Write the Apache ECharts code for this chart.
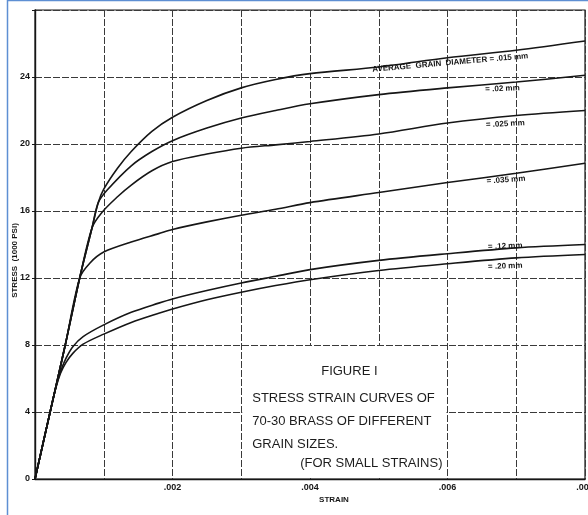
<!DOCTYPE html>
<html>
<head>
<meta charset="utf-8">
<script src="https://cdn.jsdelivr.net/npm/echarts@6/dist/echarts.min.js"></script>
<style>
html, body { margin: 0; padding: 0; background: #fff; }
#chart { width: 588px; height: 515px; }
</style>
</head>
<body>
<div id="chart"></div>
<script>
// strain (in/in) vs stress (1000 psi)
const grain015 = [[0, 0], [0.00022, 4], [0.00044, 8], [0.00065, 12], [0.00083, 15], [0.00092, 16.5], [0.001, 17.3], [0.0012, 18.55], [0.0014, 19.55], [0.0017, 20.75], [0.002, 21.6], [0.0025, 22.6], [0.003, 23.35], [0.0035, 23.85], [0.004, 24.2], [0.005, 24.6], [0.006, 25.15], [0.007, 25.6], [0.008, 26.15]];
const grain02 = [[0, 0], [0.00022, 4], [0.00044, 8], [0.00065, 12], [0.00083, 15], [0.00092, 16.5], [0.00105, 17.25], [0.0014, 18.7], [0.0017, 19.55], [0.002, 20.2], [0.0025, 20.95], [0.003, 21.55], [0.0035, 22.0], [0.004, 22.4], [0.005, 22.95], [0.006, 23.35], [0.007, 23.7], [0.008, 24.1]];
const grain025 = [[0, 0], [0.00022, 4], [0.00044, 8], [0.00065, 12], [0.00083, 15], [0.00097, 15.9], [0.0012, 16.85], [0.0014, 17.55], [0.0017, 18.4], [0.002, 18.95], [0.0025, 19.4], [0.003, 19.75], [0.0035, 19.95], [0.004, 20.15], [0.005, 20.6], [0.006, 21.25], [0.007, 21.7], [0.008, 22.0]];
const grain035 = [[0, 0], [0.00022, 4], [0.00044, 8], [0.00065, 12], [0.0008, 12.9], [0.001, 13.55], [0.0014, 14.15], [0.0018, 14.65], [0.002, 14.9], [0.0025, 15.35], [0.003, 15.75], [0.0035, 16.1], [0.004, 16.5], [0.005, 17.1], [0.006, 17.7], [0.007, 18.25], [0.008, 18.85]];
const grain12 = [[0, 0], [0.00022, 4], [0.0003, 5.4], [0.00037, 6.4], [0.00045, 7.2], [0.00055, 7.9], [0.0007, 8.5], [0.001, 9.2], [0.0014, 9.95], [0.0018, 10.5], [0.002, 10.75], [0.0025, 11.25], [0.003, 11.7], [0.0035, 12.1], [0.004, 12.5], [0.005, 13.05], [0.006, 13.45], [0.007, 13.8], [0.008, 14.0]];
const grain20 = [[0, 0], [0.00022, 4], [0.0003, 5.4], [0.00037, 6.3], [0.00045, 6.95], [0.00055, 7.5], [0.0007, 8.05], [0.001, 8.65], [0.0014, 9.35], [0.0018, 9.9], [0.002, 10.15], [0.0025, 10.7], [0.003, 11.15], [0.0035, 11.55], [0.004, 11.9], [0.005, 12.45], [0.006, 12.85], [0.007, 13.2], [0.008, 13.4]];

const curveLabels = [
    'AVERAGE  GRAIN  DIAMETER = .015 mm',
    '= .02 mm',
    '= .025 mm',
    '= .035 mm',
    '= .12 mm',
    '= .20 mm',
];
const figureLines = [
    'FIGURE I',
    'STRESS STRAIN CURVES OF',
    '70-30 BRASS OF DIFFERENT',
    'GRAIN SIZES.',
    '(FOR SMALL STRAINS)',
];

const ink = '#161616';
const narrow = "'Liberation Sans Narrow', 'Liberation Sans', sans-serif";

let chart = echarts.init(document.getElementById('chart'));

function curve(name, data, label, coord, rotate) {
    return {
        name,
        type: 'line',
        data,
        showSymbol: false,
        smooth: 0.3,
        lineStyle: { color: ink, width: 1.6 },
        z: 3,
        markPoint: {
            symbol: 'circle',
            symbolSize: 0,
            silent: true,
            data: [{ coord }],
            label: {
                show: true,
                position: 'inside',
                formatter: label,
                rotate,
                color: ink,
                fontSize: 8,
                fontWeight: 'bold',
                fontFamily: narrow,
            },
        },
    };
}

let option = {
    animation: false,
    backgroundColor: '#fff',
    grid: {
        left: 35,
        right: 3,
        top: 10,
        bottom: 36,
        outerBoundsMode: 'none',
        show: true,
        borderColor: ink,
        borderWidth: 1.2,
    },
    xAxis: {
        type: 'value',
        min: 0,
        max: 0.008,
        interval: 0.001,
        name: 'STRAIN',
        nameLocation: 'middle',
        nameGap: 17,
        nameMoveOverlap: false,
        nameTextStyle: {
            color: ink,
            fontSize: 8,
            fontWeight: 'bold',
            fontFamily: narrow,
            padding: [0, 0, 0, 48],
        },
        axisLine: { show: true, lineStyle: { color: ink, width: 1.4 } },
        axisTick: { show: false },
        axisLabel: {
            showMaxLabel: true,
            margin: 4,
            color: ink,
            fontSize: 9,
            fontWeight: 'bold',
            fontFamily: narrow,
            formatter: (v) => {
                let k = Math.round(v * 1000);
                return k > 0 && k % 2 === 0 ? '.00' + k : '';
            },
        },
        splitLine: {
            show: true,
            lineStyle: { color: '#3a3a3a', width: 1, type: [7, 2] },
        },
    },
    yAxis: {
        type: 'value',
        min: 0,
        max: 28,
        interval: 4,
        name: 'STRESS  (1000 PSI)',
        nameLocation: 'middle',
        nameGap: 16,
        nameMoveOverlap: false,
        nameRotate: 90,
        nameTextStyle: {
            color: ink,
            fontSize: 8,
            fontWeight: 'bold',
            fontFamily: narrow,
            padding: [0, 32, 0, 0],
        },
        axisLine: { show: true, lineStyle: { color: ink, width: 1.4 } },
        axisTick: { show: true, length: 3, lineStyle: { color: ink } },
        axisLabel: {
            margin: 5,
            color: ink,
            fontSize: 9,
            fontWeight: 'bold',
            fontFamily: narrow,
            formatter: (v) => (v >= 28 ? '' : String(v)),
        },
        splitLine: {
            show: true,
            lineStyle: { color: '#3a3a3a', width: 1, type: [7, 2] },
        },
    },
    series: [
        curve('.015 mm', grain015, curveLabels[0], [0.00604, 24.85], 5),
        curve('.02 mm', grain02, curveLabels[1], [0.0068, 23.3], 2),
        curve('.025 mm', grain025, curveLabels[2], [0.00684, 21.2], 3),
        curve('.035 mm', grain035, curveLabels[3], [0.00685, 17.85], 4),
        curve('.12 mm', grain12, curveLabels[4], [0.00684, 13.9], 2),
        curve('.20 mm', grain20, curveLabels[5], [0.00684, 12.7], 2),
    ],
};
chart.setOption(option);

// caption box sits in the grid cells .003-.006 / 0-8, blanking their grid lines
let topLeft = chart.convertToPixel({ gridIndex: 0 }, [0.003, 8]);
let bottomRight = chart.convertToPixel({ gridIndex: 0 }, [0.006, 0]);
let boxLeft = topLeft[0] + 1;
let boxTop = topLeft[1] + 1;
let boxRight = bottomRight[0] - 1;
let boxBottom = bottomRight[1] - 1;
let captionFont = {
    fill: '#1c1c1c',
    fontSize: 13,
    fontFamily: "'Liberation Sans', sans-serif",
    verticalAlign: 'middle',
};

chart.setOption({
    graphic: [
        {
            type: 'rect',
            z: 1,
            silent: true,
            shape: { x: boxLeft, y: boxTop, width: boxRight - boxLeft, height: boxBottom - boxTop },
            style: { fill: '#fff' },
        },
        {
            type: 'text',
            z: 2,
            x: (boxLeft + boxRight) / 2 + 5,
            y: boxTop + 25,
            style: Object.assign({ text: figureLines[0], align: 'center' }, captionFont),
        },
        {
            type: 'text',
            z: 2,
            x: boxLeft + 10,
            y: boxTop + 52,
            style: Object.assign({ text: figureLines[1], align: 'left' }, captionFont),
        },
        {
            type: 'text',
            z: 2,
            x: boxLeft + 10,
            y: boxTop + 75,
            style: Object.assign({ text: figureLines[2], align: 'left' }, captionFont),
        },
        {
            type: 'text',
            z: 2,
            x: boxLeft + 10,
            y: boxTop + 98,
            style: Object.assign({ text: figureLines[3], align: 'left' }, captionFont),
        },
        {
            type: 'text',
            z: 2,
            x: boxRight - 4,
            y: boxTop + 117,
            style: Object.assign({ text: figureLines[4], align: 'right' }, captionFont),
        },
        // blue scan frame
        {
            type: 'rect',
            z: 5,
            silent: true,
            shape: { x: 7.5, y: 0.5, width: 700, height: 700 },
            style: { fill: null, stroke: '#5e8fd3', lineWidth: 1.5 },
        },
    ],
});
</script>
</body>
</html>
